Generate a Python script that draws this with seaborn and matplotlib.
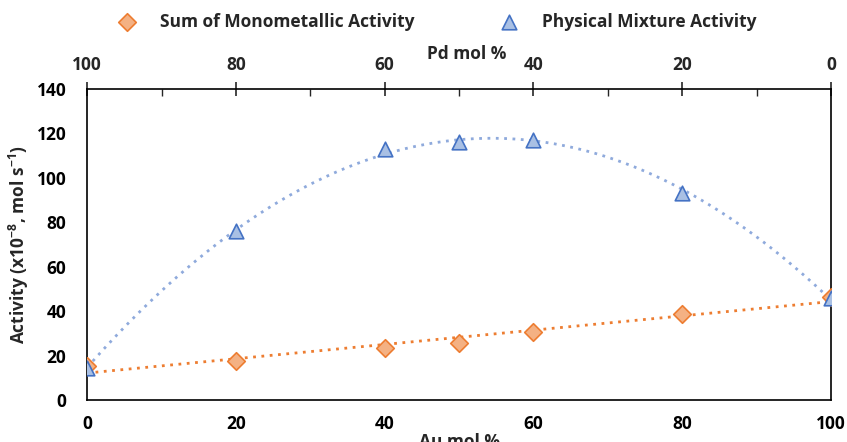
import numpy as np
import pandas as pd
import matplotlib
matplotlib.use('Agg')
import matplotlib.pyplot as plt
import seaborn as sns
from matplotlib.ticker import MultipleLocator

au_pct = [0, 20, 40, 50, 60, 80, 100]
mono_activity = [15.5, 17.5, 23.5, 25.5, 30.5, 38.5, 46.5]
phys_activity = [14.5, 76, 113, 116, 117, 93, 46]

sns.set_style('white')
plt.rcParams['font.family'] = ['Open Sans', 'DejaVu Sans']
plt.rcParams['font.weight'] = 'bold'
plt.rcParams['mathtext.fontset'] = 'custom'
plt.rcParams['mathtext.bf'] = 'Open Sans:bold'
plt.rcParams['mathtext.rm'] = 'Open Sans:bold'

df = pd.DataFrame({'Au': au_pct, 'Mono': mono_activity, 'Phys': phys_activity})

orange = '#ED7D31'
blue = '#4472C4'
fs = 12.5

fig, ax = plt.subplots(figsize=(8.47, 4.42), dpi=100)
fig.subplots_adjust(left=0.103, right=0.981, top=0.799, bottom=0.095)

# trendlines (Excel style)
xs = np.linspace(0, 100, 300)
lin = np.polyfit(df['Au'], df['Mono'], 1)
poly = np.polyfit(df['Au'], df['Phys'], 2)
ax.plot(xs, np.polyval(lin, xs), color=orange, lw=2, ls=(0, (1, 2)), zorder=2)
ax.plot(xs, np.polyval(poly, xs), color='#8FAADC', lw=2, ls=(0, (1, 2)), zorder=2)

sns.scatterplot(data=df, x='Au', y='Mono', marker='D', s=80, color='#F4B183',
                edgecolor=orange, linewidth=1.2, ax=ax, zorder=3,
                label='Sum of Monometallic Activity')
sns.scatterplot(data=df, x='Au', y='Phys', marker='^', s=110, color='#A9C0E4',
                edgecolor=blue, linewidth=1.2, ax=ax, zorder=4,
                label='Physical Mixture Activity')

ax.set_xlim(0, 100)
ax.set_ylim(0, 140)
ax.xaxis.set_major_locator(MultipleLocator(20))
ax.xaxis.set_minor_locator(MultipleLocator(10))
ax.yaxis.set_major_locator(MultipleLocator(20))
ax.yaxis.set_minor_locator(MultipleLocator(10))
ax.tick_params(which='major', direction='inout', length=10, width=1.2,
               labelsize=fs, colors='black', pad=6)
ax.tick_params(axis='y', which='major', pad=10)
ax.tick_params(which='minor', direction='in', length=5, width=1.0)
for lab in ax.get_xticklabels() + ax.get_yticklabels():
    lab.set_fontweight('bold')
for s in ax.spines.values():
    s.set_color('black')
    s.set_linewidth(1.2)

ax.set_xlabel('Au mol %', fontsize=fs, fontweight='bold', labelpad=0)
ax.set_ylabel('Activity (x10$^{-8}$, mol s$^{-1}$)', fontsize=fs,
              fontweight='bold', labelpad=4)

top = ax.secondary_xaxis('top', functions=(lambda x: 100 - x, lambda x: 100 - x))
top.xaxis.set_major_locator(MultipleLocator(20))
top.xaxis.set_minor_locator(MultipleLocator(10))
top.tick_params(which='major', direction='inout', length=10, width=1.2,
                labelsize=fs, pad=6)
top.tick_params(which='minor', direction='in', length=5, width=1.0)
for lab in top.get_xticklabels():
    lab.set_fontweight('bold')
top.spines['top'].set_visible(False)
fig.text(0.551, 0.877, 'Pd mol %', ha='center', va='center', fontsize=fs, fontweight='bold')

ax.legend(loc='upper center', bbox_to_anchor=(0.465, 1.295), ncol=2, frameon=False,
          columnspacing=4.4, handletextpad=0.9,
          prop={'weight': 'bold', 'size': fs})

fig.savefig('out.png', dpi=100)
